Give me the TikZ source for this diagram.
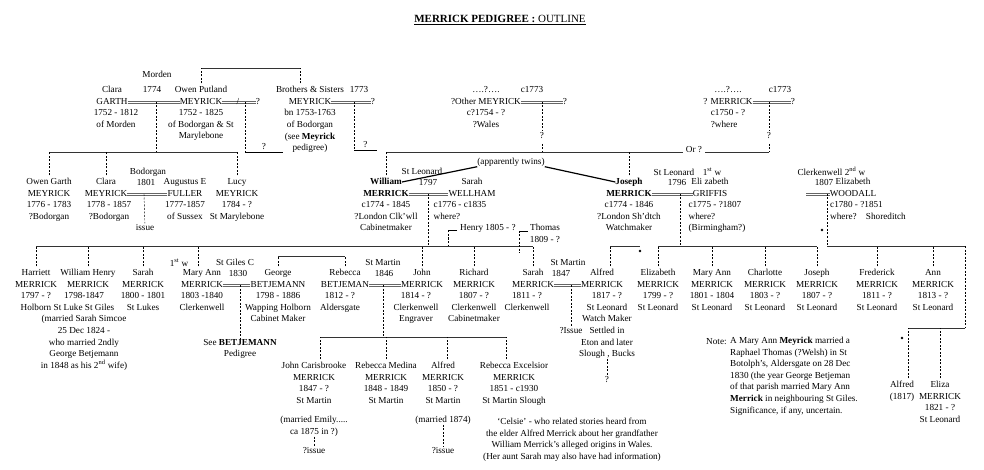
\documentclass[tikz,border=0pt]{standalone}
\usepackage{fontspec}
\setmainfont{Liberation Serif}
\usetikzlibrary{positioning}
\tikzstyle{nm}=[inner sep=0pt,text height=7pt,text depth=2pt]
\tikzstyle{fn}=[nm]
\tikzstyle{det}=[inner sep=0pt,align=center,execute at begin node=\rule{0pt}{7pt}]
\tikzstyle{blk}=[det,anchor=north]
\tikzstyle{bar}=[line width=.9pt,black!80]
\tikzstyle{desc}=[line width=.45pt,dash pattern=on 2pt off 1.5pt]
\tikzstyle{wed}=[line width=.6pt,black!60]
\tikzstyle{twin}=[line width=1.2pt]
\tikzstyle{blob}=[circle,fill,inner sep=0pt,minimum size=2.6pt]
\tikzstyle{qm}=[nm,fill=white,inner sep=1pt]
\newcommand\psn[6][]{%
  \node[nm] (#2) at #3 {#5};
  \node[fn,above=2.6pt of #2] (#2-f) {#4};
  \node[det,below=2.6pt of #2,#1] (#2-d) {#6};}
\newcommand\dropline[3][0pt]{\draw[desc,shorten <=2pt] ([xshift=#1]#2.north) -- ([xshift=#1]#2.north |- #3);}
\newcommand\wedline[2]{\draw[wed] ([yshift=1pt]#1) -- ([yshift=1pt]#2.west) ([yshift=-1pt]#1) -- ([yshift=-1pt]#2.west);}
\begin{document}
\begin{tikzpicture}[x=1pt,y=-1pt,font=\fontsize{9.2}{11.6}\selectfont]
\useasboundingbox (0,0) rectangle (984,470);
\node[nm,font=\fontsize{11}{13}\selectfont] (title) at (500,20) {\underline{\textbf{MERRICK PEDIGREE :} OUTLINE}};
\coordinate (b0) at (0,68);
\coordinate (b1) at (0,152.5);
\coordinate (b3) at (0,246);
\coordinate (b5) at (0,256);
\coordinate (b4) at (0,328);
\coordinate (b6) at (0,337);

% first generation
\psn[xshift=4pt]{garth}{(112,102)}{Clara}{GARTH}{1752 - 1812\\of Morden}
\psn{owen}{(201,102)}{Owen Putland}{MEYRICK}{1752 - 1825\\of Bodorgan \& St\\Marylebone}
\node[nm] (owenq) at (258,102) {?};
\psn{bros}{(310,102)}{Brothers \& Sisters}{MEYRICK}{bn 1753-1763\\of Bodorgan\\(see \textbf{Meyrick}\\pedigree)}
\node[nm] (brosq) at (373,102) {?};
\psn{other}{(486,102)}{\dots.?\dots.}{?Other MEYRICK}{c?1754 - ?\\?Wales}
\node[nm] (otherq) at (565,102) {?};
\psn[align=left]{mer}{(728,102)}{\dots.?\dots.}{? MERRICK}{c1750 - ?\\?where}
\node[nm] (merq) at (793,102) {?};
\node[nm] (mdn) at (157,75) {Morden};
\node[nm] (d1774) at (152,90) {1774};
\node[nm] (d1773a) at (359,90) {1773};
\node[nm] (d1773b) at (532,90) {c1773};
\node[nm] (d1773c) at (780,90) {c1773};
\wedline{garth.east}{owen}
\wedline{owen.east}{owenq}
\node[nm] (slash) at (238,102) {/};
\wedline{bros.east}{brosq}
\wedline{other.east}{otherq}
\wedline{mer.east}{merq}
\coordinate (u1) at (156,102);
\coordinate (u2) at (245,102);
\coordinate (u2e) at (283,152);
\coordinate (u3) at (354,102);
\coordinate (u3e) at (377,150);
\coordinate (u4) at (542,102);
\coordinate (u5) at (769,102);
\draw[bar] (owen-f.north |- b0) -- ([xshift=-10pt]bros-f.north |- b0);
\dropline{owen-f}{b0}
\dropline[-10pt]{bros-f}{b0}
\draw[desc] (u2) -- (u2 |- u2e);
\draw[thin] (u2 |- u2e) -- node[nm,above=.5pt] (q2) {?} (u2e);
\draw[desc] (u3) -- (u3 |- u3e);
\draw[thin] (u3 |- u3e) -- node[nm,above=.5pt] (q3) {?} (u3e);
\draw[desc] (u4) -- node[qm,pos=.68] (q4) {?} (u4 |- b1);
\draw[desc] (u5) -- node[qm,pos=.68] (q5) {?} (u5 |- b1);

% second generation
\psn{og}{(49,194)}{Owen Garth}{MEYRICK}{1776 - 1783\\?Bodorgan}
\psn[xshift=3pt]{clara2}{(106,194)}{Clara}{MEYRICK}{1778 - 1857\\?Bodorgan}
\psn{fuller}{(185,194)}{Augustus E}{FULLER}{1777-1857\\of Sussex}
\psn{lucy}{(237,194)}{Lucy}{MEYRICK}{1784 - ?\\St Marylebone}
\node[nm] (bod) at (148,172) {Bodorgan};
\node[nm] (d1801) at (146,183) {1801};
\wedline{clara2.east}{fuller}
\coordinate (u6) at (144,194);
\node[nm] (iss1) at (145,228) {issue};
\draw[desc] (u6) -- (iss1);
\draw[desc] (u1) -- (u1 |- b1);
\draw[bar] (og-f.north |- b1) -- (lucy-f.north |- b1);
\dropline{og-f}{b1}
\dropline{clara2-f}{b1}
\dropline{lucy-f}{b1}

\psn{wm}{(386,194)}{\textbf{William}}{\textbf{MERRICK}}{c1774 - 1845\\?London Clk'wll\\Cabinetmaker}
\psn[align=left,xshift=-12pt]{wellham}{(472,194)}{Sarah}{WELLHAM}{c1776 - c1835\\where?}
\node[nm] (stl1) at (422,172) {St Leonard};
\node[nm] (d1797) at (428,183) {1797};
\wedline{wm.east}{wellham}
\coordinate (u7) at (428,194);
\node[nm,anchor=west] (henry) at (460,228) {Henry 1805 - ?};
\node[blk] (thomas) at (545,224) {Thomas\\1809 - ?};

\psn{jm}{(629,194)}{\textbf{Joseph}}{\textbf{MERRICK}}{c1774 - 1846\\?London Sh'dtch\\Watchmaker}
\psn[align=left,xshift=7pt]{griffis}{(710,194)}{Eli zabeth}{GRIFFIS}{c1775 - ?1807\\where?\\(Birmingham?)}
\node[nm] (stl2) at (674,173) {St Leonard};
\node[nm] (w1) at (712,173) {1\textsuperscript{st} w};
\node[nm] (d1796) at (677,183) {1796};
\wedline{jm.east}{griffis}
\coordinate (u8) at (680,194);
\psn[align=left,xshift=15pt]{woodall}{(853,194)}{Elizabeth}{WOODALL}{c1780 - ?1851\\where?\quad Shoreditch}
\coordinate (jm2) at (806,194);
\wedline{jm2}{woodall}
\node[nm] (clk) at (820,173) {Clerkenwell};
\node[nm] (w2) at (855,173) {2\textsuperscript{nd} w};
\node[nm] (d1807) at (824,183) {1807};
\coordinate (u9) at (827,194);
\node[blob] (dt2) at (822,230) {};

\node[nm] (twins) at (511,162) {(apparently twins)};
\draw[twin] (twins.south west) -- (wm-f.east);
\draw[twin] (twins.south east) -- (jm-f.west);
\node[nm,inner xsep=3pt] (orq) at (694,150) {Or ?};
\draw[bar] (wm-f.north |- b1) -- (orq.west |- b1);
\draw[bar] (orq.east |- b1) -- (u5 |- b1);
\dropline{wm-f}{b1}
\dropline{jm-f}{b1}

% third generation
\psn{harriett}{(36,285)}{Harriett}{MERRICK}{1797 - ?\\Holborn}
\psn[xshift=-4pt]{whm}{(88,285)}{William Henry}{MERRICK}{1798-1847\\St Luke St Giles\\(married Sarah Simcoe\\25 Dec 1824 -\\who married 2ndly\\George Betjemann\\in 1848 as his 2\textsuperscript{nd} wife)}
\psn{sarah1}{(143,285)}{Sarah}{MERRICK}{1800 - 1801\\St Lukes}
\psn{maryann}{(202,285)}{Mary Ann}{MERRICK}{1803 -1840\\Clerkenwell}
\psn{george}{(278,285)}{George}{BETJEMANN}{1798 - 1886\\Wapping Holborn\\Cabinet Maker}
\node[nm] (w1b) at (179,264) {1\textsuperscript{st} w};
\node[nm] (stg) at (235,263) {St Giles C};
\node[nm] (d1830) at (238,274) {1830};
\wedline{maryann.east}{george}
\coordinate (u10) at (240,285);
\node[blk] (seeb) at (240,339) {See \textbf{BETJEMANN}\\Pedigree};
\draw[desc] (u10) -- (seeb);

\psn[xshift=-5pt]{rebecca}{(345,285)}{Rebecca}{BETJEMAN}{1812 - ?\\Aldersgate}
\psn[xshift=-6pt]{john}{(422,285)}{John}{MERRICK}{1814 - ?\\Clerkenwell\\Engraver}
\node[nm] (stm1) at (383,263) {St Martin};
\node[nm] (d1846) at (384,274) {1846};
\wedline{rebecca.east}{john}
\coordinate (u11) at (383,285);
\psn{richard}{(474,285)}{Richard}{MERRICK}{1807 - ?\\Clerkenwell\\Cabinetmaker}
\psn[xshift=-6pt]{sarah2}{(533,285)}{Sarah}{MERRICK}{1811 - ?\\Clerkenwell}
\psn[xshift=5pt]{alfred}{(602,285)}{Alfred}{MERRICK}{1817 - ?\\St Leonard\\Watch Maker\\Settled in\\Eton and later\\Slough , Bucks}
\node[nm] (stm2) at (568,263) {St Martin};
\node[nm] (d1847) at (561,274) {1847};
\wedline{sarah2.east}{alfred}
\coordinate (u12) at (571,285);
\node[nm] (iss2) at (571,331) {?Issue};
\draw[desc] (u12) -- (iss2);
\node[nm] (alfq) at (607,380) {?};
\draw[desc] (alfred-d) -- (alfq);

\psn{eliz}{(658,285)}{Elizabeth}{MERRICK}{1799 - ?\\St Leonard}
\psn{maryann2}{(712,285)}{Mary Ann}{MERRICK}{1801 - 1804\\St Leonard}
\psn{charlotte}{(765,285)}{Charlotte}{MERRICK}{1803 - ?\\St Leonard}
\psn{joseph2}{(817,285)}{Joseph}{MERRICK}{1807 - ?\\St Leonard}
\psn{frederick}{(877,285)}{Frederick}{MERRICK}{1811 - ?\\St Leonard}
\psn{ann}{(933,285)}{Ann}{MERRICK}{1813 - ?\\St Leonard}

\draw[desc] (u7) -- (u7 |- b3);
\draw[bar] (harriett-f.north |- b3) -- (sarah2-f.north |- b3);
\dropline{harriett-f}{b3}
\dropline{whm-f}{b3}
\dropline{sarah1-f}{b3}
\dropline[-4pt]{maryann-f}{b3}
\dropline{john-f}{b3}
\dropline{richard-f}{b3}
\dropline{sarah2-f}{b3}
\draw[thin] ([xshift=-3pt]henry.base west) -- ([xshift=-12pt]henry.base west);
\draw[desc] ([xshift=-12pt]henry.base west) -- ([xshift=-12pt]henry.base west |- b3);
\draw[thin] ([xshift=-2pt,yshift=-7pt]thomas.north west) -- ([xshift=-11pt,yshift=-7pt]thomas.north west);
\draw[desc] ([xshift=-11pt,yshift=-7pt]thomas.north west) -- ([xshift=-11pt,yshift=-7pt]thomas.north west |- b3);

\draw[desc] (u8) -- (u8 |- b3);
\draw[bar] (eliz-f.north |- b3) -- (joseph2-f.north |- b3);
\dropline{eliz-f}{b3}
\dropline{maryann2-f}{b3}
\dropline{charlotte-f}{b3}
\dropline{joseph2-f}{b3}
\coordinate (lnk) at (965,246);
\draw[desc] (u9) -- (u9 |- b3);
\draw[bar] (u9 |- b3) -- (lnk);
\dropline{frederick-f}{b3}
\dropline{ann-f}{b3}
\node[blob] (dt1) at (640,251) {};
\draw[bar] ([xshift=8pt]alfred-f.north |- b3) -- (dt1 |- b3);
\dropline[8pt]{alfred-f}{b3}

\draw[bar] (george-f.north |- b5) -- (rebecca-f.north |- b5);
\dropline{george-f}{b5}
\dropline{rebecca-f}{b5}

% fourth generation
\psn{jc}{(314,378)}{John Carisbrooke}{MERRICK}{1847 - ?\\St Martin\\[8pt](married Emily.....\\ca 1875 in ?)}
\psn{rm}{(386,378)}{Rebecca Medina}{MERRICK}{1848 - 1849\\St Martin}
\psn{alfred3}{(443,378)}{Alfred}{MERRICK}{1850 - ?\\St Martin\\[8pt](married 1874)}
\psn{re}{(514,378)}{Rebecca Excelsior}{MERRICK}{1851 - c1930\\St Martin Slough}
\draw[desc] (u11) -- (u11 |- b6);
\draw[bar] ([xshift=6pt]jc-f.north |- b6) -- ([xshift=-8pt]re-f.north |- b6);
\dropline[6pt]{jc-f}{b6}
\dropline{rm-f}{b6}
\dropline[4pt]{alfred3-f}{b6}
\dropline[-8pt]{re-f}{b6}
\node[nm] (jci) at (314,451) {?issue};
\node[nm] (a3i) at (443,451) {?issue};
\draw[desc] (jc-d) -- (jci);
\draw[desc] (alfred3-d) -- (a3i);
\node[blk] (celsie) at (572,418) {`Celsie' - who related stories heard from\\the elder Alfred Merrick about her grandfather\\William Merrick's alleged origins in Wales.\\(Her aunt Sarah may also have had information)};

\node[nm] (alfred2) at (902,397) {(1817)};
\node[fn,above=2.6pt of alfred2] (alfred2-f) {Alfred};
\psn{eliza}{(940,397)}{Eliza}{MERRICK}{1821 - ?\\St Leonard}
\draw[desc] (lnk) -- (lnk |- b4);
\draw[bar] ([xshift=6pt]alfred2-f.north |- b4) -- (lnk |- b4);
\dropline[6pt]{alfred2-f}{b4}
\dropline{eliza-f}{b4}
\node[blob] (dt3) at (902,338) {};

\node[blk,anchor=north west] (notel) at (706,337) {Note:};
\node[blk,anchor=north west,align=left] (note) at (730,337) {A Mary Ann \textbf{Meyrick} married a\\Raphael Thomas (?Welsh) in St\\Botolph's, Aldersgate on 28 Dec\\1830 (the year George Betjeman\\of that parish married Mary Ann\\\textbf{Merrick} in neighbouring St Giles.\\Significance, if any, uncertain.};
\end{tikzpicture}
\end{document}
